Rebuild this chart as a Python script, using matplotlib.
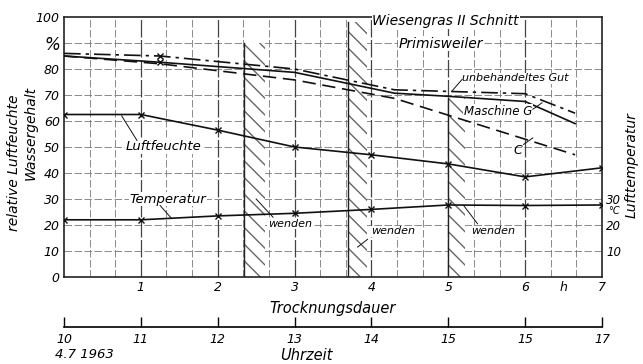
import matplotlib.pyplot as plt
from matplotlib.patches import Rectangle

plt.rcParams['font.family'] = ['DejaVu Sans']
plt.rcParams['font.style'] = 'italic'

# Luftfeuchte and Lufttemperatur, read every hour of drying
hours = [0, 1, 2, 3, 4, 5, 6, 7]
luftfeuchte = [62.5, 62.5, 56.5, 50, 47, 43.5, 38.5, 42]
temperatur = [22, 22, 23.5, 24.5, 26, 27.7, 27.5, 27.7]

# Wassergehalt of the grass
t_gut = [0, 1.25, 3, 4.3, 6, 6.65]
gut = [86, 85, 80, 72, 70.5, 63]
t_maschine = [0, 1.25, 3, 4.3, 5, 6, 6.65]
maschine_g = [85, 82.6, 78.7, 70.7, 69.5, 67.5, 59]
t_c = [0, 1.25, 3, 4.3, 6.65]
probe_c = [85, 82, 75.8, 68.7, 47]

# turning periods (wenden)
wenden_start = [2.34, 3.69, 5.0]
wenden_end = [2.62, 3.94, 5.22]
wenden_top = [90, 98, 69]

x_ticks = [1, 2, 3, 4, 5, 6, 6.5, 7]
x_labels = ['1', '2', '3', '4', '5', '6', 'h', '7']
y_labels = ['0', '10', '20', '30', '40', '50', '60', '70', '80', '%', '100']
clock_ticks = [10, 11, 12, 13, 14, 15, 16, 17]
clock_labels = ['10', '11', '12', '13', '14', '15', '15', '17']

fig = plt.figure(figsize=(6.43, 3.64), dpi=100)
ax = fig.add_axes([64 / 643, 1 - 277 / 364, 538 / 643, 260 / 364])
ax.set_xlim(0, 7)
ax.set_ylim(0, 100)

# hand drawn looking grid
for v in range(10, 100, 10):
    ax.axhline(v, color='#777', lw=0.6, dashes=(9, 3), zorder=1)
for k in range(1, 21):
    x = k / 3
    if k % 3 == 0:
        ax.axvline(x, color='#444', lw=0.9, dashes=(14, 2), zorder=1)
    else:
        ax.axvline(x, color='#777', lw=0.6, dashes=(9, 3), zorder=1)

for s, e, top in zip(wenden_start, wenden_end, wenden_top):
    ax.add_patch(Rectangle((s, 0), e - s, top, facecolor='white',
                           edgecolor='#666', hatch='\\\\', lw=0, zorder=2))
    ax.plot([s, s], [0, top], color='#222', lw=1.0, zorder=3)

ax.plot(t_gut, gut, color='#111', lw=1.2, dashes=(10, 3, 2, 3), zorder=4)
ax.plot(t_maschine, maschine_g, color='#111', lw=1.2, zorder=4)
ax.plot(t_c, probe_c, color='#111', lw=1.2, dashes=(8, 4), zorder=4)
ax.plot([1.25, 1.25], [85, 82.6], ls='none', marker='x', ms=4, color='#111', zorder=5)

ax.plot(hours, luftfeuchte, color='#111', lw=1.2, marker='x', ms=4, zorder=4)
ax.plot(hours, temperatur, color='#111', lw=1.2, marker='x', ms=4, zorder=4)

for sp in ax.spines.values():
    sp.set_linewidth(1.2)
    sp.set_color('#222')

ax.set_yticks(range(0, 101, 10))
ax.set_yticklabels(y_labels, fontsize=9)
ax.set_xticks(x_ticks)
ax.set_xticklabels(x_labels, fontsize=9)
ax.tick_params(length=0, pad=3)
ax.get_yticklabels()[9].set_fontsize(12)

ax.set_xlabel('Trocknungsdauer', fontsize=10.5, labelpad=5)
fig.text(14 / 643, 1 - 163 / 364, 'relative Luftfeuchte', fontsize=10,
         rotation=90, ha='center', va='center')
fig.text(31 / 643, 1 - 133 / 364, 'Wassergehalt', fontsize=10,
         rotation=90, ha='center', va='center')

# right hand temperature scale
ax2 = ax.twinx()
ax2.set_ylim(0, 100)
ax2.set_yticks([10, 20, 30])
ax2.set_yticklabels(['10', '20', '30'], fontsize=8.5)
ax2.tick_params(length=0, pad=3)
for sp in ax2.spines.values():
    sp.set_visible(False)
ax.text(7.08, 25.3, '°C', fontsize=7, va='center', ha='left')
fig.text(632 / 643, 1 - 165 / 364, 'Lufttemperatur', fontsize=10,
         rotation=90, ha='center', va='center')

# clock time axis below
sec = ax.secondary_xaxis(-50 / 260, functions=(lambda x: x + 10, lambda x: x - 10))
sec.set_xticks(clock_ticks)
sec.set_xticklabels(clock_labels, fontsize=9)
sec.tick_params(direction='in', length=7, width=1.0, pad=4)
sec.spines['bottom'].set_linewidth(1.2)
fig.text(55 / 643, 1 - 355 / 364, '4.7 1963', fontsize=9.5, va='center')
fig.text(306 / 643, 1 - 355 / 364, 'Uhrzeit', fontsize=10.5, va='center', ha='center')

# annotations
ax.text(4.01, 98.3, 'Wiesengras II Schnitt', fontsize=10, va='center',
        bbox=dict(facecolor='white', edgecolor='none', pad=0.5), zorder=6)
ax.text(4.9, 89.8, 'Primisweiler', fontsize=10, va='center', ha='center',
        bbox=dict(facecolor='white', edgecolor='none', pad=0.5), zorder=6)

ax.text(5.18, 76.5, 'unbehandeltes Gut', fontsize=8, va='center',
        bbox=dict(facecolor='white', edgecolor='none', pad=0.3), zorder=6)
ax.plot([5.18, 5.05], [76, 71.6], color='#111', lw=0.7, zorder=6)
ax.text(5.2, 63.8, 'Maschine G', fontsize=8.5, va='center',
        bbox=dict(facecolor='white', edgecolor='none', pad=0.3), zorder=6)
ax.plot([6.1, 6.22], [64.5, 67], color='#111', lw=0.7, zorder=6)
ax.text(5.85, 48.5, 'C', fontsize=9, va='center', zorder=6)
ax.plot([5.98, 6.1], [51, 53.5], color='#111', lw=0.7, zorder=6)

ax.text(0.8, 50, 'Luftfeuchte', fontsize=9.5, va='center',
        bbox=dict(facecolor='white', edgecolor='none', pad=0.5), zorder=6)
ax.plot([0.95, 0.75], [52.5, 62], color='#111', lw=0.7, zorder=6)
ax.text(0.85, 30, 'Temperatur', fontsize=9.5, va='center',
        bbox=dict(facecolor='white', edgecolor='none', pad=0.5), zorder=6)
ax.plot([1.25, 1.4], [27.5, 22.5], color='#111', lw=0.7, zorder=6)

wenden_x = [2.65, 3.99, 5.3]
wenden_y = [20.5, 17.5, 17.5]
for wx, wy in zip(wenden_x, wenden_y):
    ax.text(wx, wy, 'wenden', fontsize=8, va='center',
            bbox=dict(facecolor='white', edgecolor='none', pad=0.3), zorder=6)
ax.plot([2.72, 2.5], [23, 30], color='#111', lw=0.7, zorder=6)
ax.plot([3.95, 3.82], [14.5, 11.5], color='#111', lw=0.7, zorder=6)
ax.plot([5.38, 5.2], [20.5, 27.5], color='#111', lw=0.7, zorder=6)

fig.savefig('out.png', dpi=100)
